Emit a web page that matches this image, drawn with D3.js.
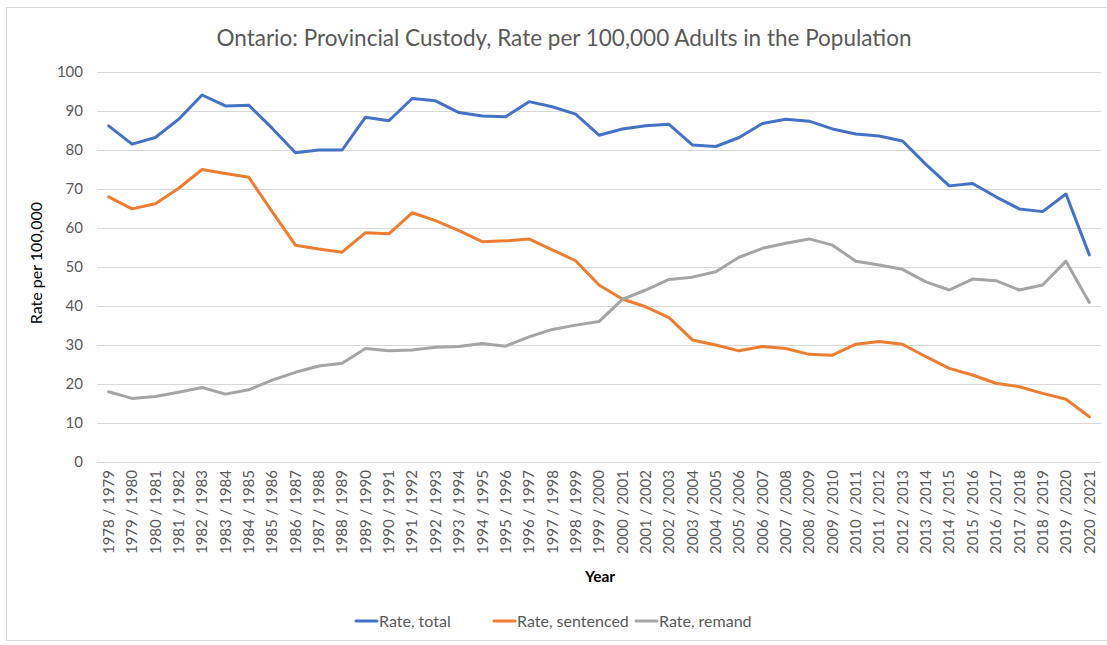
<!DOCTYPE html>
<html><head><meta charset="utf-8">
<script src="https://cdn.jsdelivr.net/npm/d3@7"></script>
<style>body{margin:0;background:#fff;} svg{display:block;font-family:Lato,"Open Sans",sans-serif;}</style>
</head><body>
<svg id="c" width="1107" height="645"></svg>
<script>
const years = [];
for (let y = 1978; y <= 2020; y++) years.push(y + " / " + (y + 1));
const rateTotal = [86.2,81.5,83.2,87.9,94.1,91.3,91.5,85.6,79.3,80.0,80.0,88.4,87.5,93.2,92.6,89.6,88.7,88.5,92.4,91.1,89.2,83.8,85.4,86.2,86.6,81.3,80.9,83.2,86.8,87.9,87.4,85.4,84.1,83.6,82.3,76.3,70.8,71.4,68.0,64.9,64.2,68.7,53.1];
const rateSentenced = [68.0,64.9,66.2,70.2,75.0,74.0,73.0,64.2,55.6,54.6,53.8,58.8,58.5,63.9,61.9,59.3,56.5,56.7,57.2,54.4,51.6,45.4,41.8,39.8,37.0,31.3,30.0,28.5,29.6,29.1,27.6,27.4,30.2,30.9,30.2,27.0,24.0,22.3,20.2,19.3,17.6,16.1,11.6];
const rateRemand = [18.0,16.3,16.8,17.9,19.1,17.4,18.5,21.0,23.0,24.6,25.3,29.1,28.5,28.7,29.4,29.6,30.4,29.7,32.1,34.0,35.1,36.0,41.7,44.1,46.8,47.4,48.8,52.5,54.8,56.1,57.2,55.6,51.5,50.5,49.4,46.2,44.1,46.9,46.5,44.1,45.4,51.5,40.9];
const yTicks = [0,10,20,30,40,50,60,70,80,90,100];
const seriesNames = ["Rate, total","Rate, sentenced","Rate, remand"];
const seriesColors = ["#4472C4","#ED7D31","#A5A5A5"];
const title = "Ontario: Provincial Custody, Rate per 100,000 Adults in the Population";

const svg = d3.select("#c");
svg.append("rect").attr("x",6.5).attr("y",7.5).attr("width",1120).attr("height",633)
  .attr("fill","#fff").attr("stroke","#D9D9D9").attr("stroke-width",1);

const x = d3.scaleBand().domain(years).range([97,1101]);
const y = d3.scaleLinear().domain([0,100]).range([462,72]);

// gridlines
svg.append("g").selectAll("line").data(yTicks).join("line")
  .attr("x1",97).attr("x2",1101).attr("y1",d=>y(d)+0.5).attr("y2",d=>y(d)+0.5)
  .attr("stroke","#D9D9D9").attr("stroke-width",1);

// y axis
const ya = svg.append("g").attr("transform","translate(97,0)")
  .call(d3.axisLeft(y).tickValues(yTicks).tickSize(0).tickPadding(14));
ya.select(".domain").remove();
ya.selectAll("text").attr("font-size",15).attr("fill","#595959").attr("font-family","Lato,sans-serif");

// x axis
const xa = svg.append("g").attr("transform","translate(0,462)")
  .call(d3.axisBottom(x).tickSize(0));
xa.select(".domain").remove();
xa.selectAll("text").attr("font-size",15).attr("fill","#595959").attr("font-family","Lato,sans-serif")
  .attr("text-anchor","end").attr("transform","rotate(-90)").attr("x",-8).attr("y",0).attr("dy","0.35em");

// lines
const line = d3.line().x((d,i)=>x(years[i])+x.bandwidth()/2).y(d=>y(d));
[rateTotal,rateSentenced,rateRemand].forEach((s,k)=>{
  svg.append("path").datum(s).attr("d",line).attr("fill","none")
    .attr("stroke",seriesColors[k]).attr("stroke-width",3).attr("stroke-linejoin","round").attr("stroke-linecap","round");
});

// title
svg.append("text").attr("x",564).attr("y",46).attr("text-anchor","middle")
  .attr("font-size",22.5).attr("fill","#595959").text(title);

// axis titles
svg.append("text").attr("transform","translate(42,263) rotate(-90)").attr("text-anchor","middle")
  .attr("font-size",16).attr("fill","#000").text("Rate per 100,000");
svg.append("text").attr("x",600).attr("y",582).attr("text-anchor","middle")
  .attr("font-size",15.5).attr("font-weight","bold").attr("fill","#000").text("Year");

// legend
const legX = [356,494,636];
seriesNames.forEach((n,k)=>{
  const g = svg.append("g").attr("transform",`translate(${legX[k]},621)`);
  g.append("line").attr("x1",0).attr("x2",21).attr("y1",0).attr("y2",0)
    .attr("stroke",seriesColors[k]).attr("stroke-width",3).attr("stroke-linecap","round");
  g.append("text").attr("x",23).attr("y",0).attr("dy","0.35em").attr("font-size",16)
    .attr("fill","#595959").text(n);
});
</script>
</body></html>
